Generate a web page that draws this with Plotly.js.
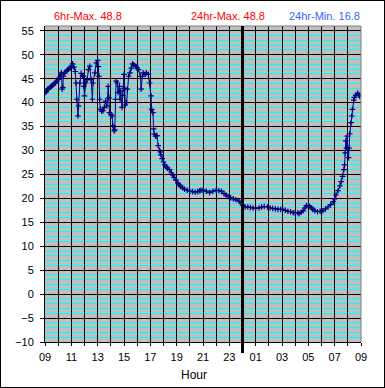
<!DOCTYPE html>
<html>
<head>
<meta charset="utf-8">
<script src="https://cdn.plot.ly/plotly-3.0.1.min.js"></script>
<style>
  html, body { margin: 0; padding: 0; background: #ffffff; }
  #chart { width: 383px; height: 386px; border: 1px solid #000000; }
</style>
</head>
<body>
<div id="chart"></div>
<script>
// Hours since 00:00 of first day (09 -> 33 = 09 next day)
const hours = [
  9.0, 9.1, 9.2, 9.3, 9.4, 9.5, 9.6, 9.7, 9.8, 9.9,
  10.0, 10.1, 10.2, 10.25, 10.3, 10.35, 10.4, 10.5, 10.6, 10.7, 10.8, 10.9,
  11.0, 11.1, 11.2, 11.3, 11.35, 11.4, 11.5, 11.55, 11.65, 11.75, 11.85, 11.9, 11.95,
  12.0, 12.1, 12.2, 12.3, 12.4, 12.5, 12.6, 12.65, 12.8, 12.9,
  13.0, 13.05, 13.1, 13.15, 13.2, 13.3, 13.4, 13.5, 13.6, 13.7, 13.8, 13.85, 13.9,
  14.0, 14.1, 14.15, 14.25, 14.3, 14.35, 14.4, 14.5, 14.55, 14.65, 14.7, 14.75, 14.85, 14.9, 14.95,
  15.0, 15.05, 15.1, 15.2, 15.25, 15.35, 15.45, 15.55, 15.65, 15.75, 15.9,
  16.0, 16.1, 16.25, 16.3, 16.4, 16.45, 16.6, 16.7, 16.85, 16.95,
  17.05, 17.1, 17.2, 17.25, 17.3, 17.4, 17.5, 17.6, 17.7, 17.75, 17.8, 17.9,
  18.0, 18.1, 18.2, 18.3, 18.45, 18.6, 18.7, 18.8, 18.95,
  19.1, 19.2, 19.3, 19.45, 19.6, 19.8,
  20.0, 20.2, 20.4, 20.6, 20.75, 20.85,
  21.0, 21.25, 21.5, 21.75,
  22.0, 22.2, 22.4, 22.6, 22.75, 22.9,
  23.1, 23.3, 23.5, 23.75, 23.9,
  24.0, 24.2, 24.4, 24.6, 24.8,
  25.0, 25.25, 25.45, 25.65, 25.9,
  26.1, 26.3, 26.5, 26.7, 26.9,
  27.05, 27.25, 27.45, 27.65, 27.85,
  28.0, 28.2, 28.3, 28.45, 28.6, 28.75, 28.85,
  29.0, 29.1, 29.25, 29.35, 29.5, 29.7, 29.9,
  30.1, 30.3, 30.5, 30.7, 30.9,
  31.0, 31.1, 31.25, 31.4, 31.5, 31.6, 31.7, 31.75, 31.8, 31.85, 31.9, 31.95,
  32.0, 32.05, 32.1, 32.15, 32.25, 32.3, 32.35, 32.45, 32.5, 32.6, 32.75, 32.85, 32.9
];
const temps = [
  42.1, 42.3, 42.8, 43.0, 43.2, 43.4, 43.7, 44.0, 44.1, 44.5,
  44.8, 45.3, 45.9, 46.2, 42.8, 43.2, 45.5, 46.2, 46.5, 46.8, 47.0, 47.2,
  47.6, 48.1, 47.4, 46.5, 44.1, 40.7, 37.2, 39.3, 44.1, 46.1, 45.6, 45.5, 43.4,
  41.4, 44.1, 44.8, 46.9, 47.6, 44.8, 40.7, 44.1, 46.2, 48.3,
  48.8, 47.5, 45.5, 40.7, 38.6, 38.2, 38.3, 39.0, 40.3, 39.3, 43.4, 41.0, 37.9,
  37.5, 37.2, 35.2, 34.1, 34.3, 40.7, 44.5, 44.1, 42.1, 43.4, 40.7, 42.4, 39.0, 41.5, 43.0,
  45.9, 43.0, 39.5, 40.0, 42.8, 45.5, 46.2, 47.2, 48.1, 47.9, 47.6,
  47.2, 46.9, 45.5, 42.8, 45.5, 46.2, 45.9, 46.2, 45.9, 44.1,
  41.4, 38.6, 37.9, 34.5, 33.4, 33.0, 33.1, 31.0, 30.0, 29.7, 29.1, 28.3,
  27.6, 27.0, 26.6, 26.3, 26.0, 25.3, 24.9, 24.4, 23.8,
  23.2, 22.8, 22.5, 22.2, 21.9, 21.7,
  21.5, 21.4, 21.3, 21.4, 21.6, 21.7,
  21.7, 21.5, 21.2, 21.5,
  21.7, 21.6, 21.5, 21.0, 20.7, 20.4,
  20.1, 19.9, 19.7, 19.4, 19.1,
  18.6, 18.2, 18.2, 18.1, 18.0,
  17.9, 18.0, 18.2, 18.3, 18.2,
  18.0, 17.9, 17.8, 17.7, 17.7,
  17.7, 17.5, 17.3, 17.2, 17.0,
  17.0, 17.0, 16.8, 17.1, 17.4, 18.0, 18.5,
  18.5, 18.3, 18.0, 17.7, 17.4, 17.2, 17.3,
  17.4, 17.8, 18.2, 18.7, 19.3,
  19.9, 20.7, 21.6, 22.6, 23.5, 24.6, 26.0, 27.0, 29.5, 32.0, 30.5, 33.0,
  30.0, 28.5, 30.5, 33.5, 35.8, 37.2, 38.6, 40.5, 41.1, 41.5, 42.0, 41.5, 41.4
];
const tickHours = [9, 10, 11, 12, 13, 14, 15, 16, 17, 18, 19, 20, 21, 22, 23, 24, 25, 26, 27, 28, 29, 30, 31, 32, 33];
const tickLabels = ["09", "", "11", "", "13", "", "15", "", "17", "", "19", "", "21", "", "23", "", "01", "", "03", "", "05", "", "07", "", "09"];
const headerTexts = ["6hr-Max. 48.8", "24hr-Max. 48.8", "24hr-Min. 16.8"];
const headerColors = ["#FF0000", "#FF0000", "#3366FF"];
const midnightHour = 24;

const FONT = "Liberation Sans, Arial, sans-serif";

const trace = {
  x: hours,
  y: temps,
  type: "scatter",
  mode: "lines+markers",
  line: { color: "#000080", width: 1 },
  marker: { symbol: "cross-thin", size: 4, color: "#000080", line: { color: "#000080", width: 1.2 } },
  hoverinfo: "skip",
  showlegend: false
};

const headerX = [0.136, 0.58, 0.883];
const annotations = headerTexts.map((t, i) => ({
  text: t, xref: "paper", yref: "paper", x: headerX[i], y: 1.033,
  xanchor: "center", yanchor: "middle", showarrow: false,
  font: { family: FONT, size: 11, color: headerColors[i] }
}));
annotations.push({
  text: "Hour", xref: "paper", yref: "paper", x: 0.472, y: -0.075,
  xanchor: "center", yanchor: "top", showarrow: false,
  font: { family: FONT, size: 12, color: "#000000" }
});

const layout = {
  width: 383,
  height: 386,
  margin: { l: 44, r: 23, t: 25, b: 45, pad: 0 },
  paper_bgcolor: "#FFFFFF",
  plot_bgcolor: "#C0C0C0",
  font: { family: FONT, size: 11, color: "#000000" },
  showlegend: false,
  xaxis: {
    range: [9, 33],
    tickmode: "array",
    tickvals: tickHours,
    ticktext: tickLabels,
    showgrid: true, gridcolor: "#000000", gridwidth: 1,
    zeroline: false,
    showline: true, linecolor: "#000000", linewidth: 1,
    ticks: "outside", ticklen: 3, tickcolor: "#000000", tickwidth: 1,
    ticklabelstandoff: 2,
    tickfont: { family: FONT, size: 11, color: "#000000" },
    fixedrange: true
  },
  yaxis: {
    range: [-10, 56],
    tick0: -10, dtick: 5,
    showgrid: true, gridcolor: "#000000", gridwidth: 1,
    minor: { tick0: -10, dtick: 1, showgrid: true, gridcolor: "#00FFFF", gridwidth: 1, ticks: "" },
    zeroline: false,
    showline: true, linecolor: "#000000", linewidth: 1,
    ticks: "outside", ticklen: 4, tickcolor: "#000000", tickwidth: 1,
    ticklabelstandoff: 4,
    tickfont: { family: FONT, size: 11, color: "#000000" },
    fixedrange: true
  },
  shapes: [
    { type: "path", xref: "paper", yref: "paper", path: "M 0 1 L 1 1 L 1 0", line: { color: "#808080", width: 1 }, layer: "above" },
    { type: "line", xref: "x", yref: "paper", x0: midnightHour, x1: midnightHour, y0: -0.035, y1: 1, line: { color: "#000000", width: 3 }, layer: "above" }
  ],
  annotations: annotations
};

Plotly.newPlot("chart", [trace], layout, { staticPlot: true, displayModeBar: false });
</script>
</body>
</html>
